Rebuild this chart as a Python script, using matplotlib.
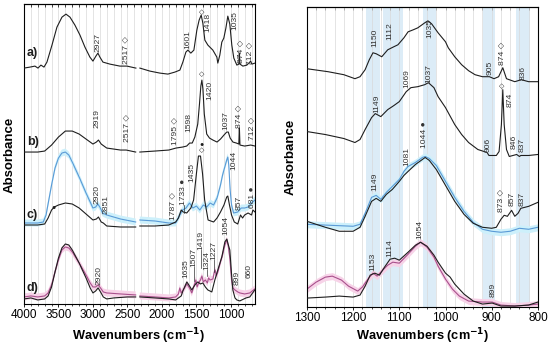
import numpy as np
import matplotlib.pyplot as plt

plt.rcParams['font.family'] = ['Liberation Sans', 'DejaVu Sans']

nan = np.nan

# ---- left panel (4000-650 cm-1), offsets included
# gap around 2350 cm-1 (no data)
left_a = [(4000, 236), (3913, 237), (3841, 238), (3797, 236), (3754, 239), (3710, 237),
          (3667, 242), (3594, 259), (3522, 277), (3449, 287), (3391, 290), (3333, 287),
          (3261, 279), (3188, 269), (3116, 257), (3044, 247), (3000, 243), (2957, 248),
          (2928, 251), (2899, 247), (2855, 242), (2754, 240), (2609, 238), (2507, 238),
          (2377, 236), (2350, nan), (2319, 236), (2174, 233), (2029, 231), (1913, 230),
          (1812, 232), (1739, 234), (1696, 242), (1652, 252), (1623, 254), (1580, 251),
          (1536, 254), (1493, 274), (1460, 284), (1430, 289), (1406, 281), (1377, 264),
          (1333, 259), (1261, 254), (1203, 247), (1189, 241), (1160, 249), (1131, 262),
          (1102, 266), (1072, 276), (1044, 288), (1015, 280), (986, 259), (957, 246),
          (913, 239), (884, 240), (876, 251), (868, 240), (826, 238), (768, 239),
          (739, 241), (712, 243), (696, 240), (650, 241)]

left_b = [(4000, 152), (3800, 152), (3700, 153), (3600, 159), (3500, 167), (3400, 173),
          (3300, 173), (3200, 170), (3100, 165), (3000, 160), (2950, 162), (2920, 164),
          (2880, 160), (2800, 156), (2600, 154), (2517, 154), (2380, 152), (2350, nan),
          (2320, 152), (2100, 153), (1900, 154), (1795, 156), (1700, 157), (1640, 158),
          (1598, 161), (1560, 161), (1522, 167), (1480, 180), (1455, 200), (1435, 218),
          (1420, 224), (1405, 215), (1385, 190), (1350, 170), (1310, 166), (1260, 164),
          (1200, 162), (1150, 165), (1100, 169), (1060, 172), (1037, 172), (1010, 166),
          (970, 162), (920, 161), (884, 160), (876, 176), (868, 159), (800, 158),
          (712, 159), (650, 158)]

left_c_black = [(4000, 79), (3800, 79), (3700, 80), (3650, 86), (3600, 94), (3560, 97),
                (3500, 99), (3400, 101), (3300, 100), (3200, 96), (3100, 90), (3000, 84),
                (2950, 85), (2920, 87), (2880, 82), (2850, 81), (2800, 78), (2600, 77),
                (2380, 77), (2350, nan), (2320, 78), (2100, 78), (1900, 79), (1800, 82),
                (1760, 86), (1720, 94), (1690, 92), (1640, 91), (1580, 96), (1540, 104),
                (1500, 130), (1470, 148), (1440, 148), (1410, 130), (1380, 104),
                (1330, 84), (1250, 82), (1200, 86), (1150, 92), (1100, 99), (1060, 107),
                (1044, 108), (1020, 99), (990, 89), (950, 82), (900, 80), (860, 89),
                (830, 86), (800, 89), (750, 91), (700, 89), (680, 94), (650, 92)]

left_c_blue = [(4000, 81), (3800, 81), (3720, 82), (3680, 89), (3640, 104), (3600, 119),
               (3550, 136), (3500, 146), (3450, 151), (3400, 152), (3350, 149),
               (3300, 142), (3200, 127), (3100, 111), (3040, 102), (3000, 96), (2960, 97),
               (2930, 100), (2900, 97), (2860, 91), (2800, 89), (2600, 85), (2380, 82),
               (2350, nan), (2320, 84), (2100, 83), (1900, 81), (1800, 81), (1740, 89),
               (1700, 94), (1650, 96), (1600, 101), (1550, 96), (1500, 98), (1450, 94),
               (1400, 99), (1350, 97), (1300, 101), (1250, 99), (1200, 106), (1150, 119),
               (1120, 129), (1100, 134), (1080, 139), (1060, 144), (1044, 147),
               (1030, 139), (1010, 114), (990, 99), (960, 91), (900, 92), (850, 96),
               (800, 96), (750, 97), (700, 101), (650, 104)]

left_d_black = [(4000, 5), (3900, 6), (3800, 4), (3700, 5), (3650, 8), (3600, 17),
                (3550, 32), (3500, 46), (3450, 56), (3400, 60), (3350, 59), (3300, 54),
                (3200, 41), (3100, 26), (3040, 16), (3000, 11), (2960, 13), (2925, 16),
                (2890, 12), (2850, 7), (2800, 5), (2700, 6), (2500, 7), (2380, 7),
                (2350, nan), (2320, 7), (2100, 6), (1900, 5), (1800, 4), (1720, 8),
                (1690, 14), (1638, 22), (1600, 18), (1566, 14), (1540, 17), (1510, 20),
                (1479, 22), (1440, 20), (1406, 21), (1370, 17), (1334, 14), (1276, 12),
                (1232, 24), (1189, 34), (1131, 47), (1087, 62), (1058, 65), (1040, 60),
                (1015, 54), (990, 30), (971, 14), (940, 6), (913, 4), (870, 3), (841, 4),
                (780, 6), (725, 7), (653, 14)]

left_d_mag = [(4000, 7), (3900, 8), (3800, 7), (3700, 8), (3650, 11), (3600, 19),
              (3550, 32), (3500, 44), (3450, 54), (3400, 57), (3350, 56), (3300, 52),
              (3200, 41), (3100, 29), (3040, 21), (3000, 17), (2960, 17), (2925, 19),
              (2890, 16), (2850, 12), (2800, 11), (2600, 10), (2380, 9), (2350, nan),
              (2320, 8), (2100, 7), (1900, 6), (1800, 7), (1760, 10), (1740, 16),
              (1720, 11), (1680, 15), (1638, 20), (1600, 16), (1566, 11), (1530, 19),
              (1507, 24), (1490, 17), (1460, 22), (1440, 24), (1419, 28), (1400, 22),
              (1370, 24), (1340, 21), (1324, 26), (1300, 24), (1260, 25), (1240, 32),
              (1227, 34), (1210, 28), (1189, 32), (1150, 42), (1120, 49), (1087, 59),
              (1058, 64), (1040, 59), (1015, 46), (990, 24), (971, 16), (940, 14),
              (899, 12), (870, 11), (800, 10), (725, 11), (653, 15)]

# ---- right panel (1300-800 cm-1)
right_a = [(1300, 239), (1254, 236), (1220, 233), (1196, 229), (1185, 231), (1174, 238),
           (1165, 248), (1157, 255), (1150, 254), (1138, 251), (1125, 258), (1112, 261),
           (1103, 263), (1090, 270), (1081, 276), (1070, 278), (1060, 280), (1045, 285),
           (1038, 287), (1030, 284), (1016, 275), (1000, 266), (994, 260), (980, 251),
           (965, 243), (950, 237), (936, 233), (920, 231), (905, 231), (895, 229),
           (885, 231), (876, 240), (868, 229), (850, 226), (836, 228), (820, 226),
           (800, 226)]

right_b = [(1300, 176), (1260, 173), (1220, 169), (1196, 165), (1185, 168), (1174, 178),
           (1160, 190), (1152, 194), (1140, 191), (1125, 198), (1112, 202), (1100, 206),
           (1085, 216), (1075, 220), (1060, 221), (1045, 223), (1037, 225), (1025, 220),
           (1016, 211), (1000, 200), (980, 183), (965, 173), (950, 165), (930, 158),
           (910, 155), (906, 152), (890, 152), (884, 156), (879, 183), (876, 218),
           (873, 183), (868, 158), (862, 151), (846, 153), (840, 151), (837, 152),
           (820, 152), (800, 153)]

right_c_black = [(1300, 86), (1260, 80), (1230, 76), (1200, 76), (1185, 80), (1174, 91),
                 (1160, 106), (1150, 109), (1140, 106), (1128, 113), (1115, 118),
                 (1100, 126), (1090, 132), (1081, 136), (1065, 143), (1050, 148),
                 (1044, 150), (1035, 147), (1020, 138), (1000, 122), (980, 106),
                 (960, 93), (940, 84), (920, 80), (900, 79), (890, 80), (880, 88),
                 (873, 92), (866, 91), (857, 97), (850, 91), (843, 94), (837, 99),
                 (820, 101), (800, 105)]

right_c_blue = [(1300, 83), (1250, 82), (1200, 81), (1185, 83), (1174, 94), (1160, 110),
                (1150, 112), (1140, 108), (1128, 115), (1115, 121), (1100, 128),
                (1090, 136), (1081, 141), (1065, 145), (1050, 150), (1044, 151),
                (1035, 149), (1020, 142), (1000, 126), (980, 110), (960, 96), (940, 85),
                (920, 78), (900, 76), (880, 75), (860, 76), (840, 79), (820, 78),
                (800, 80)]

right_d_black = [(1300, 9), (1260, 10), (1230, 11), (1200, 10), (1185, 12), (1174, 21),
                 (1163, 32), (1153, 34), (1143, 32), (1132, 40), (1120, 48), (1110, 49),
                 (1100, 47), (1081, 55), (1065, 62), (1054, 65), (1040, 61), (1025, 52),
                 (1016, 45), (1000, 34), (990, 30), (980, 23), (960, 13), (940, 6),
                 (920, 3), (899, 4), (880, 1), (850, 1), (820, 2), (800, 5)]

right_d_mag = [(1300, 18), (1280, 25), (1260, 30), (1245, 31), (1225, 27), (1210, 21),
               (1190, 16), (1180, 20), (1168, 28), (1157, 34), (1148, 31), (1138, 36),
               (1125, 42), (1114, 45), (1100, 44), (1081, 53), (1065, 61), (1054, 65),
               (1040, 60), (1025, 50), (1016, 41), (1000, 28), (985, 18), (970, 11),
               (950, 6), (920, 5), (899, 5), (880, 2), (850, 1), (820, 2), (800, 3)]

# shaded spread of the coloured replicate traces
blue_spread = 3.5
mag_spread = 3.5

# blue bands in the right panel (cm-1)
right_bands = [(1172, 1142), (1135, 1092), (1048, 1020), (918, 892), (848, 818)]

# peak labels: (text, wavenumber, y of text bottom, leader line length)
left_labels = [('2927', 2928, 252, 0), ('2517 ◇', 2507, 240, 0), ('1601', 1624, 255, 0),
               ('1418', 1334, 272, 0), ('1035', 935, 274, 0), ('874 ◇', 841, 241, 0),
               ('712 ◇', 711, 239, 0),
               ('2919', 2942, 176, 0), ('2517 ◇', 2493, 162, 0), ('1795 ◇', 1797, 159, 0),
               ('1598', 1609, 172, 0), ('1420', 1305, 204, 0), ('1037', 1073, 174, 0),
               ('874 ◇', 880, 176, 0), ('712 ◇', 682, 164, 0),
               ('2920', 2935, 100, 0), ('2851', 2815, 90, 0), ('1787 ◇', 1826, 84, 0),
               ('1733 ●', 1681, 99, 8), ('1435', 1566, 122, 0), ('1044', 957, 134, 0),
               ('857', 885, 94, 0), ('681 ●', 682, 96, 0),
               ('2920', 2913, 19, 0), ('1635', 1653, 26, 0), ('1507', 1537, 37, 14),
               ('1419', 1435, 54, 18), ('1324', 1348, 34, 6), ('1227', 1247, 44, 12),
               ('1054', 1073, 69, 0), ('899', 913, 19, 0), ('660', 740, 26, 0)]
left_marks = [('◇', 1430, 291), ('◇', 1430, 229), ('◇', 1430, 153), ('●', 1430, 160),
              ('●', 3575, 97)]
left_tags = [('a)', 3957, 251), ('b)', 3957, 162), ('c)', 3957, 89), ('d)', 3957, 16)]

right_labels = [('1150', 1153, 261, 0), ('1112', 1120, 268, 0), ('1035', 1034, 270, 0),
                ('905', 904, 233, 0), ('874 ◇', 876, 243, 0), ('836', 832, 228, 0),
                ('1149', 1148, 195, 0), ('1069', 1084, 220, 0), ('1037', 1036, 225, 0),
                ('874', 861, 201, 0), ('906', 908, 155, 0), ('846', 852, 158, 0),
                ('837', 835, 155, 0),
                ('1149', 1153, 116, 0), ('1081', 1084, 141, 0), ('1044 ●', 1045, 160, 0),
                ('873 ◇', 878, 95, 0), ('857', 856, 101, 0), ('837', 835, 101, 0),
                ('1153', 1157, 36, 0), ('1114', 1120, 50, 0), ('1054', 1055, 68, 0),
                ('899', 897, 10, 0)]
right_marks = [('◇', 878, 221)]

black = '#1e1e1e'
blue = '#5a9ad6'
blue_fill = '#cdf0fb'
mag = '#a8508c'
mag_fill = '#f7d3e8'
txt = '#333333'


def xy(pairs):
    arr = np.array(pairs, dtype=float)
    return arr[:, 0], arr[:, 1]


fig = plt.figure(figsize=(5.5, 3.45), dpi=100)
ax1 = fig.add_axes([0.0436, 0.119, 0.4200, 0.869])
ax2 = fig.add_axes([0.558, 0.110, 0.420, 0.870])

# left panel
for g in np.arange(700, 4000, 100):
    ax1.axvline(g, color='#d9d9d9', lw=0.5, zorder=0)

x, y = xy(left_c_blue)
ax1.fill_between(x, y - blue_spread, y + blue_spread, color=blue_fill, lw=0, zorder=1)
ax1.plot(x, y, color=blue, lw=0.8, zorder=2)
x, y = xy(left_d_mag)
ax1.fill_between(x, y - mag_spread, y + mag_spread, color=mag_fill, lw=0, zorder=1)
ax1.plot(x, y, color=mag, lw=0.8, zorder=2)
for curve in (left_a, left_b, left_c_black, left_d_black):
    x, y = xy(curve)
    ax1.plot(x, y, color=black, lw=0.8, zorder=3)

# right panel
for lo, hi in right_bands:
    ax2.axvspan(hi, lo, color='#dcecf7', lw=0, zorder=0)
for g in np.arange(820, 1300, 20):
    ax2.axvline(g, color='#d9d9d9', lw=0.5, zorder=0.5)

x, y = xy(right_c_blue)
ax2.fill_between(x, y - blue_spread, y + blue_spread, color=blue_fill, lw=0, zorder=1)
ax2.plot(x, y, color=blue, lw=0.8, zorder=2)
x, y = xy(right_d_mag)
ax2.fill_between(x, y - mag_spread, y + mag_spread, color=mag_fill, lw=0, zorder=1)
ax2.plot(x, y, color=mag, lw=0.8, zorder=2)
for curve in (right_a, right_b, right_c_black, right_d_black):
    x, y = xy(curve)
    ax2.plot(x, y, color=black, lw=0.8, zorder=3)


def put_labels(ax, labels, marks):
    for text, wn, yb, lead in labels:
        ax.text(wn, yb, text, rotation=90, ha='center', va='bottom', fontsize=6.1,
                color=txt, zorder=5)
        if lead:
            ax.plot([wn, wn], [yb - lead, yb], color=txt, lw=0.5, zorder=4)
    for sym, wn, yc in marks:
        ax.text(wn, yc, sym, ha='center', va='center', fontsize=5, color=black, zorder=5)


put_labels(ax1, left_labels, left_marks)
put_labels(ax2, right_labels, right_marks)
for tag, wn, yc in left_tags:
    ax1.text(wn, yc, tag, ha='left', va='center', fontsize=9, fontweight='bold',
             color=black)

ax1.set_xlim(4000, 650)
ax1.set_ylim(0, 300)
ax1.set_xticks([4000, 3500, 3000, 2500, 2000, 1500, 1000])
ax1.set_xticks(np.arange(700, 4000, 100), minor=True)
ax2.set_xlim(1300, 800)
ax2.set_ylim(0, 301)
ax2.set_xticks(np.arange(800, 1301, 100))
ax2.set_xticks(np.arange(820, 1300, 20), minor=True)

for ax in (ax1, ax2):
    ax.set_yticks([])
    ax.tick_params(axis='x', which='major', labelsize=8.5, length=2.5, width=0.6, pad=1)
    ax.tick_params(axis='x', which='minor', length=1.5, width=0.5)
    for s in ax.spines.values():
        s.set_linewidth(0.8)
    top = ax.secondary_xaxis('top')
    top.set_xticks(ax.get_xticks(minor=True), minor=True)
    top.set_xticks(ax.get_xticks())
    top.tick_params(which='both', direction='in', length=2, width=0.5, labeltop=False)
    top.set_xticklabels([])

fig.text(10 / 550, 1 - 155 / 345, 'Absorbance', rotation=90, ha='center', va='center',
         fontsize=9.5, fontweight='bold')
fig.text(291 / 550, 1 - 157 / 345, 'Absorbance', rotation=90, ha='center', va='center',
         fontsize=9.5, fontweight='bold')
fig.text(139 / 550, 1 - 336 / 345, r'Wavenumbers (cm$^{\mathbf{-1}}$)', ha='center',
         va='center', fontsize=9.2, fontweight='bold')
fig.text(423 / 550, 1 - 336 / 345, r'Wavenumbers (cm$^{\mathbf{-1}}$)', ha='center',
         va='center', fontsize=9.2, fontweight='bold')

fig.savefig('out.png', dpi=100)
